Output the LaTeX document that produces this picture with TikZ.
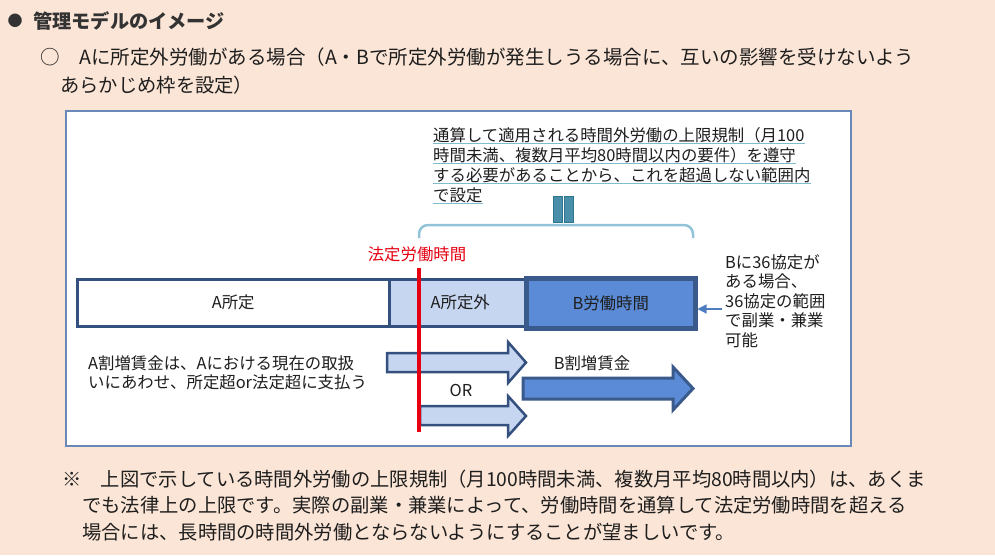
\documentclass[tikz,border=0pt]{standalone}
\usepackage{fontspec}
\setmainfont{Noto Sans CJK JP}
\usetikzlibrary{arrows.meta}
\definecolor{bg}{HTML}{FBE5D6}
\definecolor{frame}{HTML}{6B89B8}
\definecolor{navy}{HTML}{34507F}
\definecolor{navyB}{HTML}{3A5A8C}
\definecolor{lightblue}{HTML}{C6D6F0}
\definecolor{midblue}{HTML}{5B8BD6}
\definecolor{txt}{HTML}{1E1E1E}
\definecolor{titletxt}{HTML}{333333}
\definecolor{redline}{HTML}{E60012}
\definecolor{tealbar}{HTML}{4A8FAA}
\definecolor{tealedge}{HTML}{2F7590}
\definecolor{bracecol}{HTML}{92C3D9}
\definecolor{ulcol}{HTML}{7FBCD0}
\definecolor{pointer}{HTML}{4F7EC0}
\tikzset{
  t21/.style={font=\fontsize{19.2}{24}\selectfont\bfseries, inner sep=0, text=titletxt},
  t19/.style={font=\fontsize{19.3}{24}\selectfont, inner sep=0, text=txt},
  t16/.style={font=\fontsize{16.4}{19.5}\selectfont, inner sep=0, text=txt},
  uline/.style={draw=ulcol, line width=1pt},
  barbox/.style={draw=navy, line width=2.5pt},
  blockA/.style={fill=lightblue, draw=navy, line width=2.5pt, line join=miter},
  blockB/.style={fill=midblue, draw=navyB, line width=3pt, line join=miter},
}
\begin{document}
\begin{tikzpicture}[x=1pt, y=-1pt]
\useasboundingbox (0,0) rectangle (995,555);
\fill[bg] (0,0) rectangle (995,555);

% heading
\node[t16, anchor=center, font=\fontsize{15}{18}\selectfont, text=titletxt] (bullet) at (15,21) {●};
\node[t21, anchor=west] (title) at (33,21) {管理モデルのイメージ};
\node[t19, anchor=west, font=\fontsize{19.5}{24}\selectfont] (l1) at (40,57) {○　Aに所定外労働がある場合（A・Bで所定外労働が発生しうる場合に、互いの影響を受けないよう};
\node[t19, anchor=west] (l2) at (60,85) {あらかじめ枠を設定）};

% main frame
\node[draw=frame, fill=white, line width=2pt, inner sep=0, minimum width=785pt, minimum height=335pt, anchor=north west] (frame) at (65,110) {};

% upper explanation with underlines
\node[t16, anchor=base west] (u1) at (433,141) {通算して適用される時間外労働の上限規制（月100};
\node[t16, anchor=base west] (u2) at (433,161) {時間未満、複数月平均80時間以内の要件）を遵守};
\node[t16, anchor=base west] (u3) at (433,181) {する必要があることから、これを超過しない範囲内};
\node[t16, anchor=base west] (u4) at (433,201) {で設定};
\foreach \u in {u1,u2,u3,u4}{
  \draw[uline] ([yshift=-2pt]\u.base west) -- ([yshift=-2pt]\u.base east);
}

% equal sign (vertical)
\node[fill=tealbar, draw=tealedge, line width=0.8pt, inner sep=0, minimum width=9pt, minimum height=26pt, anchor=north west] (eqL) at (553,196) {};
\node[fill=tealbar, draw=tealedge, line width=0.8pt, inner sep=0, minimum width=9pt, minimum height=26pt, anchor=north west] (eqR) at (564,196) {};

% brace
\coordinate (brL) at (419,238);
\coordinate (brR) at (693,238);
\draw[bracecol, line width=2.5pt, rounded corners=9pt] (brL) -- (419,225) -- (693,225) -- (brR);

% legal working hours label
\node[t16, text=redline, anchor=center] (legal) at (417,254) {法定労働時間};

% bar row
\node[barbox, fill=white, inner sep=0, minimum width=312pt, minimum height=47pt, anchor=north west] (Afix) at (76,278) {};
\node[t16] at (Afix.center) {A所定};
\node[barbox, fill=lightblue, inner sep=0, minimum width=136pt, minimum height=47pt, anchor=north west] (Aout) at (388,278) {};
\node[t16] at ([xshift=3pt]Aout.center) {A所定外};
\node[draw=navyB, fill=midblue, line width=4.5pt, inner sep=0, minimum width=169pt, minimum height=50pt, anchor=north west] (Bwork) at (524,276) {};
\node[t16] at (Bwork.center) {B労働時間};

% B 36 agreement note
\node[t16, anchor=west, align=left] (B36) at (725,301) {Bに36協定が\\ある場合、\\36協定の範囲\\で副業・兼業\\可能};
\coordinate (ptr) at (722,309);
\draw[pointer, line width=1.2pt, -{Triangle[length=9pt,width=9pt]}] (ptr) -- (Bwork.east |- ptr);

% premium wage text
\node[t16, anchor=west, align=left] (Aprem) at (88,373) {A割増賃金は、Aにおける現在の取扱\\いにあわせ、所定超or法定超に支払う};

% block arrows
\draw[blockA] (387,353) -- (508,353) -- (508,342) -- (526,362.5) -- (508,383) -- (508,372) -- (387,372) -- cycle;
\draw[blockA] (420,406) -- (508,406) -- (508,396) -- (526,416) -- (508,436) -- (508,425) -- (420,425) -- cycle;
\node[t16] (or) at (461,390) {OR};
\draw[blockB] (523,378) -- (673,378) -- (673,367) -- (693,388.5) -- (673,410) -- (673,399) -- (523,399) -- cycle;
\node[t16] (Bprem) at (592,363) {B割増賃金};

% red legal line
\coordinate (redTop) at (419,268);
\coordinate (redBot) at (419,432);
\draw[redline, line width=3.5pt] (redTop) -- (redBot);

% bottom note
\node[t19, anchor=west] (n1) at (62,479) {※　上図で示している時間外労働の上限規制（月100時間未満、複数月平均80時間以内）は、あくま};
\node[t19, anchor=west] (n2) at (82,505) {でも法律上の上限です。実際の副業・兼業によって、労働時間を通算して法定労働時間を超える};
\node[t19, anchor=west] (n3) at (82,532) {場合には、長時間の時間外労働とならないようにすることが望ましいです。};
\end{tikzpicture}
\end{document}
